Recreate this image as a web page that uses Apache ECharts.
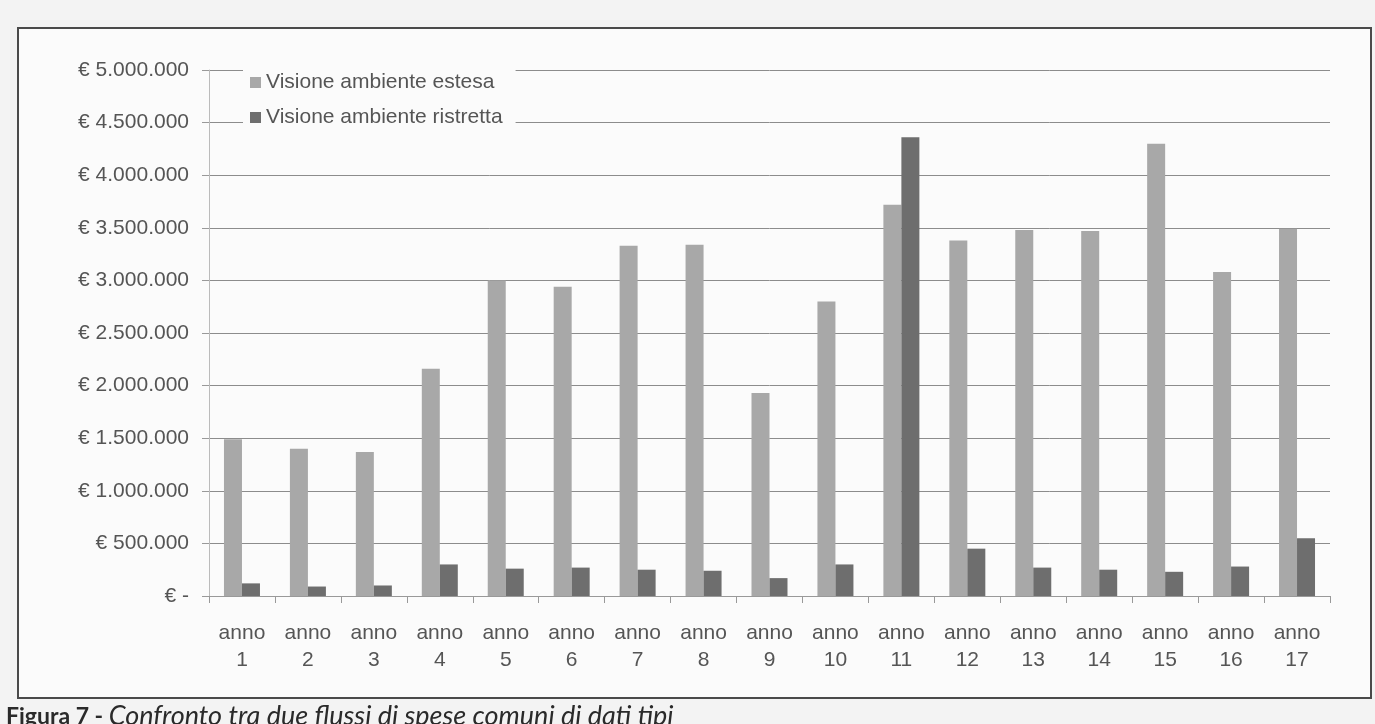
<!DOCTYPE html>
<html>
<head>
<meta charset="utf-8">
<style>
  html, body { margin: 0; padding: 0; background: #f3f3f3; }
  #chart { width: 1375px; height: 724px; }
</style>
<script src="https://cdn.jsdelivr.net/npm/echarts@6/dist/echarts.min.js"></script>
</head>
<body>
<div id="chart"></div>
<script>
// categorie (anni)
var anni = ['1', '2', '3', '4', '5', '6', '7', '8', '9', '10', '11', '12', '13', '14', '15', '16', '17'];
// valori (euro)
var visioneEstesa = [1490000, 1400000, 1370000, 2160000, 3000000, 2940000, 3330000, 3340000, 1930000, 2800000, 3720000, 3380000, 3480000, 3470000, 4300000, 3080000, 3490000];
var visioneRistretta = [120000, 90000, 100000, 300000, 260000, 270000, 250000, 240000, 170000, 300000, 4360000, 450000, 270000, 250000, 230000, 280000, 550000];
var nomiSerie = ['Visione ambiente estesa', 'Visione ambiente ristretta'];
var didascalia = 'Confronto tra due flussi di spese comuni di dati tipi';

var font = 'Liberation Sans, Arial, sans-serif';

function euro(val) {
    if (val == 0) return '€ -';
    return '€ ' + String(val).replace(/\B(?=(\d{3})+(?!\d))/g, '.');
}

var chart = echarts.init(document.getElementById('chart'));

var option = {
    backgroundColor: '#f3f3f3',
    animation: false,
    graphic: [
        {
            // cornice del grafico
            type: 'rect',
            z: -10,
            shape: { x: 18, y: 28, width: 1353, height: 670 },
            style: { fill: '#fbfbfb', stroke: '#4a4a4a', lineWidth: 2 }
        },
        {
            type: 'text',
            left: 6,
            top: 703,
            style: {
                text: '{b|Figura 7 - }{i|' + didascalia + '}',
                rich: {
                    b: { fontFamily: 'Lato, Open Sans, sans-serif', fontWeight: 'bold', fontSize: 23, fill: '#2a2a2a' },
                    i: { fontFamily: 'Lato, Open Sans, sans-serif', fontStyle: 'italic', fontSize: 27, fill: '#2a2a2a' }
                }
            }
        }
    ],
    legend: {
        data: nomiSerie,
        orient: 'vertical',
        left: 243,
        top: 66,
        itemWidth: 11,
        itemHeight: 11,
        itemGap: 14,
        icon: 'rect',
        backgroundColor: '#fbfbfb',
        padding: [6, 13, 5, 7],
        textStyle: { fontFamily: font, fontSize: 21, color: '#555' }
    },
    grid: {
        left: 209,
        right: 45,
        top: 70,
        bottom: 128
    },
    xAxis: {
        type: 'category',
        data: anni,
        axisLine: { lineStyle: { color: '#999' } },
        axisTick: { show: true, length: 7, lineStyle: { color: '#999' } },
        axisLabel: {
            interval: 0,
            margin: 24,
            lineHeight: 27,
            fontFamily: font,
            fontSize: 21,
            color: '#555',
            formatter: function (v) { return 'anno\n' + v; }
        }
    },
    yAxis: {
        type: 'value',
        min: 0,
        max: 5000000,
        interval: 500000,
        axisLine: { show: true, lineStyle: { color: '#bbb' } },
        axisTick: { show: true, length: 7, lineStyle: { color: '#999' } },
        splitLine: { show: true, lineStyle: { color: '#8c8c8c', width: 1 } },
        axisLabel: {
            margin: 20,
            fontFamily: font,
            fontSize: 21,
            color: '#555',
            formatter: euro
        }
    },
    series: [
        {
            name: nomiSerie[0],
            type: 'bar',
            data: visioneEstesa,
            barWidth: 18,
            barGap: '0%',
            itemStyle: { color: '#a8a8a8' }
        },
        {
            name: nomiSerie[1],
            type: 'bar',
            data: visioneRistretta,
            barWidth: 18,
            itemStyle: { color: '#6e6e6e' }
        }
    ]
};

chart.setOption(option);
</script>
</body>
</html>
